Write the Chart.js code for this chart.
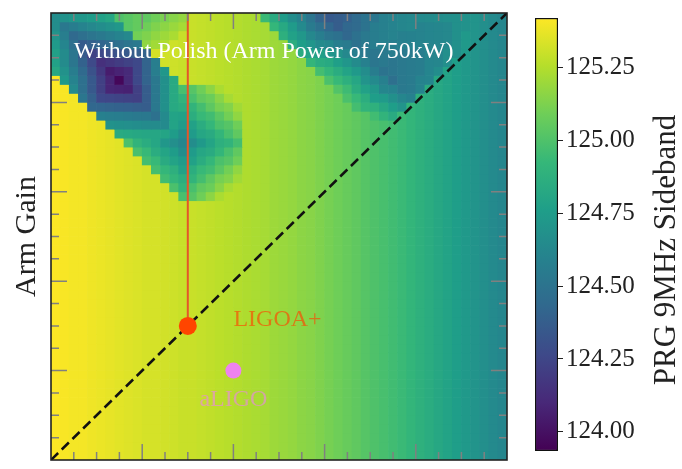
<!DOCTYPE html>
<html>
<head>
<meta charset="utf-8">
<title>PRG 9MHz Sideband</title>
<script src="https://cdn.jsdelivr.net/npm/chart.js@4.4.1/dist/chart.umd.min.js"></script>
<style>
  html, body { margin: 0; padding: 0; background: #fff; }
  #wrap { position: relative; width: 682px; height: 469px; overflow: hidden; }
  #heat { position: absolute; left: 0; top: 0; }
  #cbar { position: absolute; left: 520px; top: 0; }
</style>
</head>
<body>
<div id="wrap">
  <canvas id="heat" width="520" height="469"></canvas>
  <canvas id="cbar" width="162" height="469"></canvas>
</div>
<script>
// sideband value per column (left to right) away from the mode dips
var baseByColumn = [
  125.42, 125.41, 125.40, 125.40, 125.39, 125.38, 125.37, 125.36, 125.35, 125.34,
  125.33, 125.33, 125.32, 125.31, 125.30, 125.30, 125.29, 125.28, 125.27, 125.26,
  125.25, 125.24, 125.23, 125.22, 125.20, 125.19, 125.18, 125.16, 125.15, 125.13,
  125.11, 125.09, 125.07, 125.05, 125.02, 125.00, 124.98, 124.96, 124.94, 124.91,
  124.88, 124.85, 124.82, 124.79, 124.76, 124.73, 124.70, 124.67, 124.64, 124.62
];

// dip depth per cell, top row first, one char per column
// '.' = none, otherwise base-36 digit counted in steps of dipStep
var dipStep = 0.04;
var dipRows = [
  "jihhgfe98776543........79bdegijihfdca987654321",
  "jmlkjihg8765432.........79bdfghigfdba987765421",
  "ilonmlkji65432...........8abdeffgecba99876542",
  "hknqponmlk432.............8abccddecbaa9876542",
  "gjmqtsrqpon................899aabcccbaa986532",
  "gjmpsvutsrnj................67789abcbba98653",
  "filoruxwvrnjf................456789bcba9864",
  ".hknqtwzvrnkgc................345689aca976",
  "..jnqtwwwsokgc87531............2356799a97",
  "...mpsssssokgca86531............23466788",
  "....oooooookgcba86431............233456",
  ".....kkkkkklhddb98642..............123",
  "......hhhhhhhdedb9764",
  ".......ddddddegecb975",
  "........9bcdfghgeca97",
  ".........9acdegecb975",
  "..........9acdedb9764",
  "...........9abdb98642",
  "............9aba86431",
  ".............8a86531",
  "..............87531"
];

var nCells = 50;
var cellSize = 0.1;
var axisMax = 5;
var minorStep = 0.25;

var ligoaPlus = { x: 1.5, y: 1.5 };
var aLigo = { x: 2.0, y: 1.0 };

var cbarMin = 123.934;
var cbarMax = 125.421;
var cbarTicks = [124.00, 124.25, 124.50, 124.75, 125.00, 125.25];

var viridisStops = ['#440154', '#482878', '#3e4989', '#31688e', '#26828e',
                    '#1f9e89', '#35b779', '#6ece58', '#b5de2b', '#fde725'];

var serif = "'Liberation Serif', 'DejaVu Serif', serif";

function hexRgb(h) {
  return [parseInt(h.substr(1, 2), 16), parseInt(h.substr(3, 2), 16), parseInt(h.substr(5, 2), 16)];
}

function viridis(t) {
  t = Math.min(1, Math.max(0, t));
  var p = t * (viridisStops.length - 1);
  var i = Math.min(Math.floor(p), viridisStops.length - 2);
  var f = p - i;
  var a = hexRgb(viridisStops[i]), b = hexRgb(viridisStops[i + 1]);
  return 'rgb(' + Math.round(a[0] + (b[0] - a[0]) * f) + ',' +
    Math.round(a[1] + (b[1] - a[1]) * f) + ',' +
    Math.round(a[2] + (b[2] - a[2]) * f) + ')';
}

// one floating-bar dataset per row of cells
var datasets = [];
for (var r = 0; r < nCells; r++) {
  var row = (dipRows[r] || '').padEnd(nCells, '.');
  var y0 = axisMax - (r + 1) * cellSize;
  var cells = [], colors = [];
  for (var c = 0; c < nCells; c++) {
    var ch = row.charAt(c);
    var depth = ch === '.' ? 0 : parseInt(ch, 36) * dipStep;
    var v = baseByColumn[c] - depth;
    cells.push({ x: (c + 0.5) * cellSize, y: [y0, y0 + cellSize] });
    colors.push(viridis((v - cbarMin) / (cbarMax - cbarMin)));
  }
  datasets.push({
    type: 'bar',
    data: cells,
    backgroundColor: colors,
    borderWidth: 0,
    grouped: false,
    barPercentage: 1,
    categoryPercentage: 1,
    order: 10
  });
}

datasets.push({
  type: 'line',
  data: [{ x: 0, y: 0 }, { x: axisMax, y: axisMax }],
  borderColor: '#111',
  borderWidth: 2.5,
  borderDash: [10, 5],
  pointRadius: 0,
  order: 2
});
datasets.push({
  type: 'line',
  data: [{ x: ligoaPlus.x, y: ligoaPlus.y }, { x: ligoaPlus.x, y: axisMax }],
  borderColor: '#e5562a',
  borderWidth: 2,
  pointRadius: 0,
  order: 1
});
datasets.push({
  type: 'scatter',
  data: [ligoaPlus],
  backgroundColor: '#ff4500',
  borderWidth: 0,
  pointRadius: 9,
  order: 0
});
datasets.push({
  type: 'scatter',
  data: [aLigo],
  backgroundColor: '#ee82ee',
  borderWidth: 0,
  pointRadius: 8,
  order: 0
});

// inward ticks on all four sides, spines and the text notes
var framePlugin = {
  id: 'frame',
  afterDatasetsDraw: function (chart) {
    var ctx = chart.ctx, a = chart.chartArea;
    var xs = chart.scales.x, ys = chart.scales.y;
    ctx.save();
    ctx.strokeStyle = '#808080';
    ctx.lineWidth = 1.5;
    ctx.beginPath();
    for (var v = minorStep; v < axisMax; v += minorStep) {
      var len = Math.abs(v - Math.round(v)) < 1e-6 ? 16 : 8;
      var px = xs.getPixelForValue(v), py = ys.getPixelForValue(v);
      ctx.moveTo(px, a.bottom); ctx.lineTo(px, a.bottom - len);
      ctx.moveTo(px, a.top); ctx.lineTo(px, a.top + len);
      ctx.moveTo(a.left, py); ctx.lineTo(a.left + len, py);
      ctx.moveTo(a.right, py); ctx.lineTo(a.right - len, py);
    }
    ctx.stroke();
    ctx.strokeStyle = '#222';
    ctx.lineWidth = 1.6;
    ctx.strokeRect(a.left, a.top, a.right - a.left, a.bottom - a.top);

    ctx.font = '24px ' + serif;
    ctx.textBaseline = 'alphabetic';
    ctx.textAlign = 'left';
    ctx.fillStyle = '#ffffff';
    ctx.fillText('Without Polish (Arm Power of 750kW)', xs.getPixelForValue(0.25), ys.getPixelForValue(4.5));
    ctx.fillStyle = 'rgba(255,69,0,0.65)';
    ctx.fillText('LIGOA+', xs.getPixelForValue(2.0), ys.getPixelForValue(1.5));
    ctx.textAlign = 'center';
    ctx.fillStyle = 'rgba(238,130,238,0.6)';
    ctx.fillText('aLIGO', xs.getPixelForValue(aLigo.x), ys.getPixelForValue(0.6));
    ctx.restore();
  }
};

new Chart(document.getElementById('heat'), {
  type: 'bar',
  data: { datasets: datasets },
  options: {
    responsive: false,
    animation: false,
    events: [],
    layout: { padding: { left: 0, top: 13, right: 13, bottom: 5 } },
    plugins: { legend: { display: false }, tooltip: { enabled: false } },
    scales: {
      x: { type: 'linear', min: 0, max: axisMax, offset: false, display: false },
      y: {
        type: 'linear', min: 0, max: axisMax,
        ticks: { display: false },
        grid: { display: false, drawTicks: false },
        border: { display: false },
        title: {
          display: true, text: 'Arm Gain', color: '#222',
          font: { family: serif, size: 30 },
          padding: { top: 9, bottom: 0 }
        },
        afterFit: function (scale) { scale.width = 51; }
      }
    }
  },
  plugins: [framePlugin]
});

// colour bar
var cbarLabel = {
  id: 'cbarLabel',
  afterDraw: function (chart) {
    var ctx = chart.ctx;
    ctx.save();
    ctx.translate(147, 250);
    ctx.rotate(-Math.PI / 2);
    ctx.font = '31px ' + serif;
    ctx.fillStyle = '#222';
    ctx.textAlign = 'center';
    ctx.textBaseline = 'middle';
    ctx.fillText('PRG 9MHz Sideband', 0, 0);
    ctx.restore();
  }
};

new Chart(document.getElementById('cbar'), {
  type: 'bar',
  data: {
    labels: ['PRG'],
    datasets: [{
      data: [[cbarMin, cbarMax]],
      backgroundColor: function (c) {
        var area = c.chart.chartArea;
        if (!area) return null;
        var g = c.chart.ctx.createLinearGradient(0, area.bottom, 0, area.top);
        viridisStops.forEach(function (s, i) { g.addColorStop(i / (viridisStops.length - 1), s); });
        return g;
      },
      borderColor: '#111',
      borderWidth: 1.5,
      borderSkipped: false,
      barPercentage: 1,
      categoryPercentage: 1
    }]
  },
  options: {
    responsive: false,
    animation: false,
    events: [],
    layout: { padding: { left: 15, top: 13, right: 0, bottom: 4 } },
    plugins: { legend: { display: false }, tooltip: { enabled: false } },
    scales: {
      x: { display: false },
      y: {
        position: 'right',
        min: cbarMin, max: cbarMax,
        afterBuildTicks: function (scale) {
          scale.ticks = cbarTicks.map(function (v) { return { value: v }; });
        },
        ticks: {
          color: '#222', padding: 3,
          font: { family: serif, size: 25 },
          callback: function (v) { return Number(v).toFixed(2); }
        },
        grid: { drawOnChartArea: false, drawTicks: true, tickLength: 5, color: '#222' },
        border: { display: false },
        afterFit: function (scale) { scale.width = 124; }
      }
    }
  },
  plugins: [cbarLabel]
});
</script>
</body>
</html>
